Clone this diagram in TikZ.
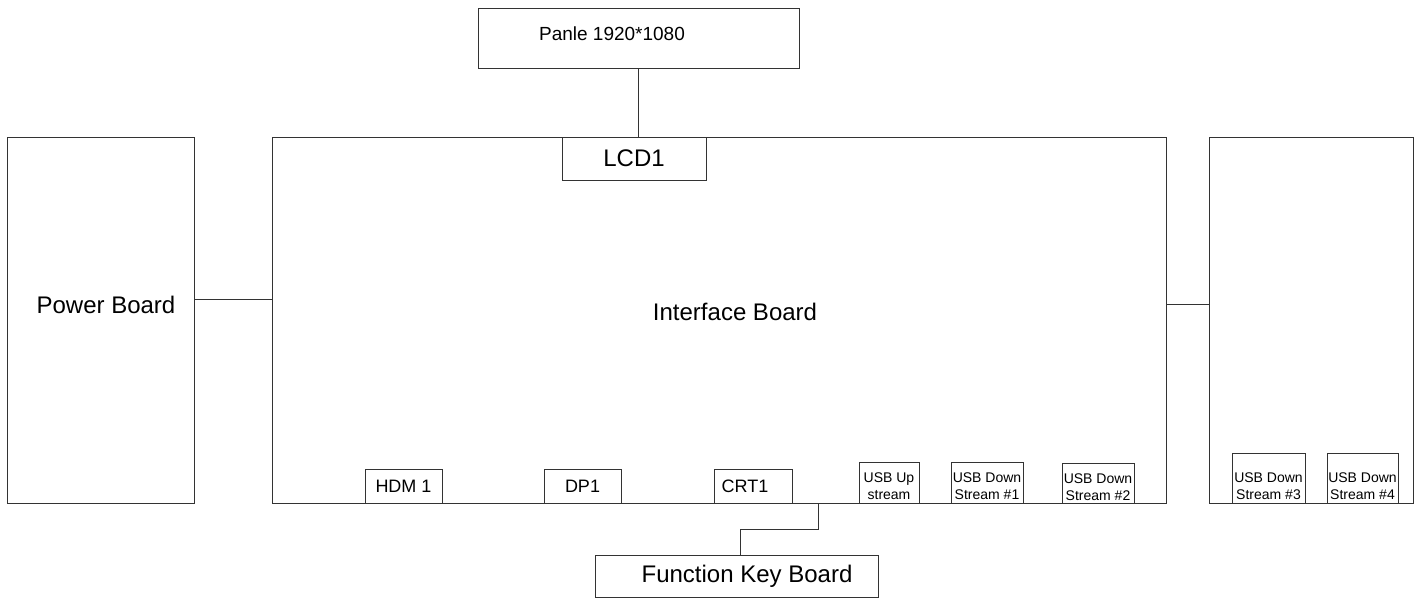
\documentclass[tikz,border=0pt]{standalone}
\usepackage{fontspec}
\setmainfont{Liberation Sans}
\usetikzlibrary{calc}

\begin{document}
\begin{tikzpicture}[x=0.5pt, y=-0.5pt,
    board/.style={draw=black!80, line width=0.5pt, inner sep=0pt, fill=white},
    big/.style={font=\fontsize{12}{14}\selectfont},
    port/.style={board, font=\fontsize{9}{10}\selectfont},
    usb/.style={board, font=\fontsize{7}{8.4}\selectfont, align=center},
    wire/.style={draw=black!80, line width=0.5pt}]

  % Frame
  \useasboundingbox (0,0) rectangle (1423,599);

  % Boards
  \node (pwr) [board, minimum width=93.5pt, minimum height=183pt,
    label={[big, xshift=2.75pt, yshift=7.5pt]center:Power Board}] at (100.5,320) {};
  \node (ifb) [board, minimum width=447pt, minimum height=183pt,
    label={[big, xshift=8pt, yshift=4pt]center:Interface Board}] at (719,320) {};
  \node (usbb) [board, minimum width=102pt, minimum height=183pt] at (1311,320) {};
  \node (panel) [board, minimum width=160.5pt, minimum height=30pt,
    label={[font=\fontsize{9.5}{11}\selectfont, xshift=-13.25pt, yshift=2.5pt]center:Panle 1920*1080}] at (638.5,39) {};
  \node (fkb) [board, minimum width=141.5pt, minimum height=21pt,
    label={[big, xshift=5.25pt]center:Function Key Board}] at (736.5,576) {};

  % Connectors on the interface board
  \node (lcd) [board, big, minimum width=72pt, minimum height=21.5pt] at (634,158.5) {LCD1};
  \node (hdmi) [port, minimum width=38.5pt, minimum height=17pt] at (403.5,486) {HDM 1};
  \node (dp) [port, minimum width=38.5pt, minimum height=17pt] at (582.5,486) {DP1};
  \node (crt) [port, minimum width=39pt, minimum height=17pt,
    label={[font=\fontsize{9}{10}\selectfont, xshift=-4pt]center:CRT1}] at (753,486) {};

  % USB ports
  \node (usbup) [usb, minimum width=30pt, minimum height=20.5pt,
    label={[usb, draw=none, fill=none, yshift=-2pt]center:USB Up\\stream}] at (889,482.5) {};
  \node (usbd1) [usb, minimum width=36pt, minimum height=20.5pt,
    label={[usb, draw=none, fill=none, yshift=-2pt]center:USB Down\\Stream \#1}] at (987,482.5) {};
  \node (usbd2) [usb, minimum width=36pt, minimum height=20pt,
    label={[usb, draw=none, fill=none, yshift=-2pt]center:USB Down\\Stream \#2}] at (1098,483) {};
  \node (usbd3) [usb, minimum width=36.5pt, minimum height=25pt,
    label={[usb, draw=none, fill=none, yshift=-4pt]center:USB Down\\Stream \#3}] at (1268.5,478) {};
  \node (usbd4) [usb, minimum width=35.5pt, minimum height=25pt,
    label={[usb, draw=none, fill=none, yshift=-4pt]center:USB Down\\Stream \#4}] at (1362.5,478) {};

  % Wires
  \coordinate (pj) at (0,299);
  \coordinate (uj) at (0,304);
  \coordinate (fkA) at (740,529);
  \coordinate (fkB) at (818,529);
  \draw[wire] (panel.south) -- (panel.south |- lcd.north);
  \draw[wire] (pwr.east |- pj) -- (ifb.west |- pj);
  \draw[wire] (ifb.east |- uj) -- (usbb.west |- uj);
  \draw[wire] (fkb.north -| fkA) -- (fkA) -| (ifb.south -| fkB);

\end{tikzpicture}
\end{document}
